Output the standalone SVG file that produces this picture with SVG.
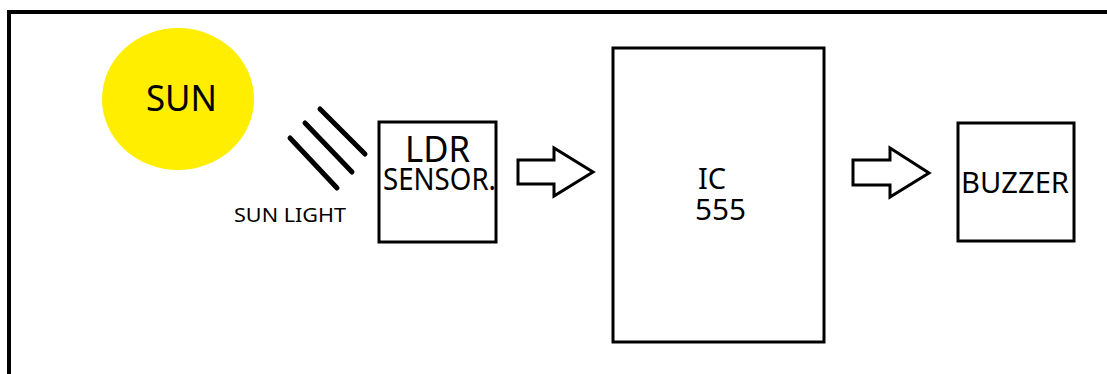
<svg xmlns="http://www.w3.org/2000/svg" width="1107" height="374" viewBox="0 0 1107 374">
<style>
.t{font-family:"Noto Sans","Open Sans","Liberation Sans",sans-serif;fill:#000}
.box{fill:#fff;stroke:#000;stroke-width:3}
.arrow{fill:#fff;stroke:#000;stroke-width:3;stroke-linejoin:miter}
.ray{stroke:#000;stroke-width:5;stroke-linecap:round}
</style>
<rect width="1107" height="374" fill="#fff"/>
<path d="M9 374 V12 H1107" fill="none" stroke="#000" stroke-width="4"/>
<g id="sun">
<ellipse cx="178" cy="99" rx="76" ry="71" fill="#ffee00"/>
<text class="t" x="146" y="111" font-size="36" textLength="71" lengthAdjust="spacingAndGlyphs">SUN</text>
</g>
<g id="sunlight">
<line class="ray" x1="290" y1="138" x2="337" y2="188"/>
<line class="ray" x1="305" y1="123" x2="352" y2="172"/>
<line class="ray" x1="320" y1="109" x2="365" y2="154"/>
<text class="t" x="234" y="222" font-size="20" textLength="112" lengthAdjust="spacingAndGlyphs">SUN LIGHT</text>
</g>
<g id="ldr">
<rect class="box" x="379" y="122" width="117" height="120"/>
<text class="t" x="405" y="162" font-size="36" textLength="65" lengthAdjust="spacingAndGlyphs">LDR</text>
<text class="t" x="383" y="190" font-size="31" textLength="113" lengthAdjust="spacingAndGlyphs">SENSOR.</text>
</g>
<g id="ic555">
<rect class="box" x="613" y="48" width="211" height="294"/>
<text class="t" x="698" y="189" font-size="29">IC</text>
<text class="t" x="695" y="220" font-size="29" textLength="51" lengthAdjust="spacingAndGlyphs">555</text>
</g>
<g id="buzzer">
<rect class="box" x="958" y="123" width="116" height="118"/>
<text class="t" x="961" y="193" font-size="29" textLength="108" lengthAdjust="spacingAndGlyphs">BUZZER</text>
</g>
<g id="connectors">
<path class="arrow" d="M518 160 H554 V148 L593 172 L554 196 V184 H518 Z"/>
<path class="arrow" d="M853 160 H890 V148 L929 173 L890 197 V185 H853 Z"/>
</g>
</svg>
